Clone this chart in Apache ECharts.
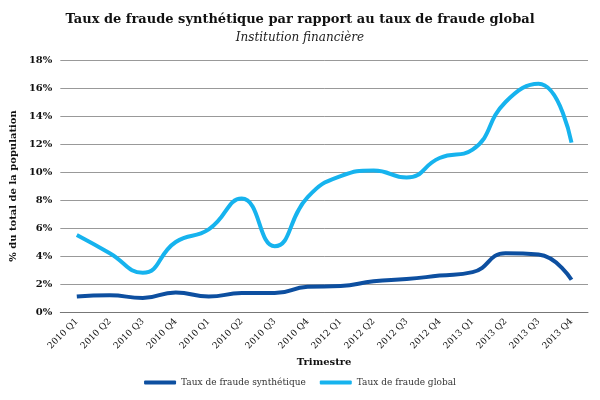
<!DOCTYPE html>
<html><head><meta charset="utf-8">
<script src="https://cdn.jsdelivr.net/npm/echarts@6/dist/echarts.min.js"></script>
<style>html,body{margin:0;padding:0;background:#fff}#c{width:600px;height:400px}</style>
</head><body><div id="c"></div>
<script>
const categories = ["2010 Q1","2010 Q2","2010 Q3","2010 Q4","2010 Q1","2010 Q2","2010 Q3","2010 Q4","2012 Q1","2012 Q2","2012 Q3","2012 Q4","2013 Q1","2013 Q2","2013 Q3","2013 Q4"];
const synthetique = [1.1, 1.2, 1.0, 1.4, 1.1, 1.35, 1.35, 1.8, 1.85, 2.2, 2.35, 2.6, 2.85, 4.2, 4.1, 2.3];
const global = [5.5, 4.2, 2.8, 5.0, 5.9, 8.1, 4.7, 8.2, 9.7, 10.1, 9.6, 11.0, 11.6, 15.0, 16.3, 12.1];
const yTicks = [0, 2, 4, 6, 8, 10, 12, 14, 16, 18];

const font = "DejaVu Serif";
const chart = echarts.init(document.getElementById('c'));
chart.setOption({
  animation: false,
  textStyle: { fontFamily: font },
  title: {
    text: "Taux de fraude synthétique par rapport au taux de fraude global",
    subtext: "Institution financière",
    left: 'center', top: 8,
    textStyle: { fontFamily: font, fontWeight: 'bold', fontSize: 13, color: '#111' },
    subtextStyle: { fontFamily: font, fontStyle: 'italic', fontSize: 12, color: '#222' },
    itemGap: 6
  },
  legend: {
    bottom: 8, left: 'center', itemWidth: 32, itemHeight: 4, itemGap: 14,
    icon: 'roundRect',
    textStyle: { fontFamily: font, fontSize: 9, color: '#333' },
    data: ["Taux de fraude synthétique", "Taux de fraude global"]
  },
  grid: { left: 54, right: 12, top: 60, bottom: 88 },
  xAxis: {
    type: 'category', data: categories, boundaryGap: true,
    name: 'Trimestre', nameLocation: 'middle', nameGap: 44,
    nameTextStyle: { fontFamily: font, fontWeight: 'bold', fontSize: 10, color: '#111' },
    axisLine: { lineStyle: { color: '#777' } },
    axisTick: { show: false },
    axisLabel: { rotate: 45, fontSize: 9, color: '#111', fontFamily: font, margin: 8, interval: 0 }
  },
  yAxis: {
    type: 'value', min: yTicks[0], max: yTicks[yTicks.length - 1], interval: 2,
    name: '% du total de la population', nameLocation: 'middle', nameGap: 38,
    nameTextStyle: { fontFamily: font, fontWeight: 'bold', fontSize: 10, color: '#111' },
    axisLine: { show: false }, axisTick: { show: false },
    axisLabel: { formatter: '{value}%', fontSize: 10, fontWeight: 'bold', color: '#111', fontFamily: font },
    splitLine: { lineStyle: { color: '#999', width: 1 } }
  },
  series: [
    { name: "Taux de fraude synthétique", type: 'line', smooth: 0.5, data: synthetique, showSymbol: false,
      lineStyle: { width: 4, color: '#0d4fa0' }, itemStyle: { color: '#0d4fa0' } },
    { name: "Taux de fraude global", type: 'line', smooth: 0.5, data: global, showSymbol: false,
      lineStyle: { width: 4, color: '#16b3ee' }, itemStyle: { color: '#16b3ee' } }
  ]
});
</script></body></html>
